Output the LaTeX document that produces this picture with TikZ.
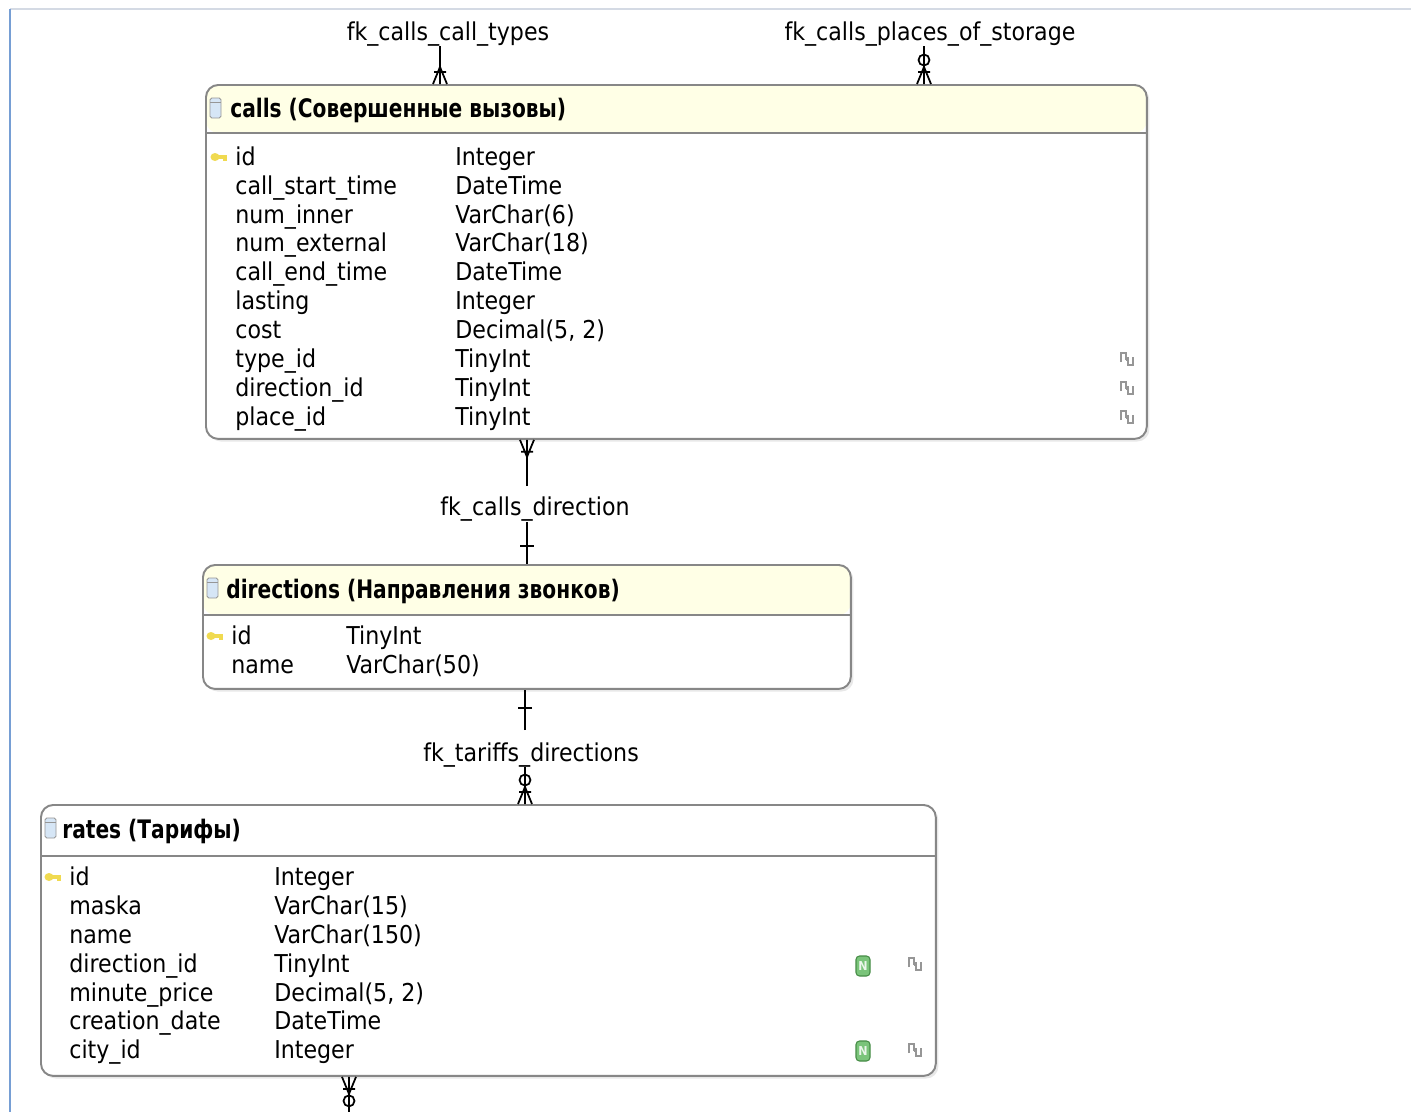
\documentclass[tikz,border=0pt]{standalone}
\usepackage{fontspec}
\setmainfont{DejaVu Sans Condensed}
\newfontfamily\ttlfont[FakeStretch=0.88]{DejaVu Sans Condensed}
\usetikzlibrary{positioning, calc, shadows}
\definecolor{hdryellow}{RGB}{255,255,230}
\definecolor{boxgray}{RGB}{135,135,135}
\definecolor{frameblue}{RGB}{118,158,212}
\definecolor{framegray}{RGB}{212,218,228}
\definecolor{keyyellow}{RGB}{240,218,80}
\definecolor{nullgreen}{RGB}{122,196,122}
\definecolor{nulldark}{RGB}{70,140,70}
\definecolor{iconblue}{RGB}{214,230,246}
\definecolor{icongray}{RGB}{150,150,150}

\tikzset{
    tbl/.style 2 args={draw=boxgray, line width=1.1pt, fill=white, rounded corners=7pt,
        rectangle, anchor=north west, inner sep=0pt,
        drop shadow={opacity=0.18, shadow xshift=1.5pt, shadow yshift=-1.5pt},
        path picture={
            \fill[#1] (path picture bounding box.north west) rectangle
                ([yshift=-#2]path picture bounding box.north east);
            \draw[boxgray, line width=1.1pt] ([yshift=-#2]path picture bounding box.north west) --
                ([yshift=-#2]path picture bounding box.north east);
        }},
    ttl/.style={anchor=base west, inner sep=0pt, font=\fontsize{14.5}{16}\ttlfont\bfseries},
    fld/.style={anchor=base west, inner sep=0pt, font=\fontsize{14}{16}\selectfont},
    fklbl/.style={inner sep=0pt, anchor=base, font=\fontsize{14}{16}\selectfont},
    rel/.style={line width=1pt, black},
    % crow's foot with a cross bar
    crow/.pic={\draw[rel] (-7,0) -- (0,-17) -- (7,0) (0,0) -- (0,-17) (-6,-12) -- (6,-12);},
    % crow's foot with a ring for the optional side
    crowzero/.pic={\draw[rel] (-7,0) -- (0,-17) -- (7,0) (0,0) -- (0,-17) (-6,-12) -- (6,-12);
        \draw[rel] (0,-24) circle[radius=0.11cm];},
    one/.pic={\draw[rel] (-7,-18) -- (7,-18);},
    tblicon/.pic={\draw[icongray, fill=iconblue, line width=0.5pt, rounded corners=1pt] (-6,-10) rectangle (5,10);
        \draw[icongray, line width=0.5pt] (-6,-6) -- (5,-6);},
    keyicon/.pic={\fill[keyyellow] (-4,0) ellipse[x radius=0.09cm, y radius=0.08cm];
        \draw[keyyellow, line width=1.8pt] (-2,0) -- (8,0) (6,0) -- (6,4);},
    linkicon/.pic={\draw[icongray, line width=0.6pt] (-6,3) -- (-6,-6) -- (-1,-6) -- (-1,1)
        (-1,1) -- (1,1) (1,-2) -- (1,6) -- (6,6) -- (6,-2);},
    nnicon/.pic={\draw[nulldark, fill=nullgreen, line width=0.6pt, rounded corners=2pt] (-7,-10) rectangle (7,10);
        \node[inner sep=0pt, text=white!85!nullgreen, font=\fontsize{7}{8}\selectfont\bfseries] at (0,0) {N};},
}

\begin{document}
\begin{tikzpicture}[x=0.02cm, y=-0.02cm]
    \useasboundingbox (0,0) rectangle (1411,1112);

    % window edges
    \draw[framegray, line width=0.6pt] (10,9) -- (1411,9);
    \draw[frameblue, line width=1.7pt] (10,9) -- (10,1112);

    % calls
    \node[tbl={hdryellow}{0.96cm}, minimum width=18.82cm, minimum height=7.08cm] (calls) at (205,84) {};
    \pic at (216,108) {tblicon};
    \node[ttl] (callsttl) at (230,117) {calls (Совершенные вызовы)};
    \pic at (219,157) {keyicon};
    \node[fld] (callsf1) at (235,165) {id};
    \node[fld] (callsf2) at (235,194) {call\_start\_time};
    \node[fld] (callsf3) at (235,223) {num\_inner};
    \node[fld] (callsf4) at (235,251) {num\_external};
    \node[fld] (callsf5) at (235,280) {call\_end\_time};
    \node[fld] (callsf6) at (235,309) {lasting};
    \node[fld] (callsf7) at (235,338) {cost};
    \node[fld] (callsf8) at (235,367) {type\_id};
    \node[fld] (callsf9) at (235,396) {direction\_id};
    \node[fld] (callsf10) at (235,425) {place\_id};
    \node[fld] (callst1) at (455,165) {Integer};
    \node[fld] (callst2) at (455,194) {DateTime};
    \node[fld] (callst3) at (455,223) {VarChar(6)};
    \node[fld] (callst4) at (455,251) {VarChar(18)};
    \node[fld] (callst5) at (455,280) {DateTime};
    \node[fld] (callst6) at (455,309) {Integer};
    \node[fld] (callst7) at (455,338) {Decimal(5, 2)};
    \node[fld] (callst8) at (455,367) {TinyInt};
    \node[fld] (callst9) at (455,396) {TinyInt};
    \node[fld] (callst10) at (455,425) {TinyInt};
    \pic at (1127,359) {linkicon};
    \pic at (1127,388) {linkicon};
    \pic at (1127,417) {linkicon};

    % directions
    \node[tbl={hdryellow}{1.0cm}, minimum width=12.96cm, minimum height=2.48cm] (dirs) at (202,564) {};
    \pic at (213,588) {tblicon};
    \node[ttl] (dirsttl) at (226,598) {directions (Направления звонков)};
    \pic at (215,636) {keyicon};
    \node[fld] (dirsf1) at (231,644) {id};
    \node[fld] (dirsf2) at (231,673) {name};
    \node[fld] (dirst1) at (346,644) {TinyInt};
    \node[fld] (dirst2) at (346,673) {VarChar(50)};

    % rates
    \node[tbl={white}{1.02cm}, minimum width=17.9cm, minimum height=5.42cm] (rates) at (40,804) {};
    \pic at (51,828) {tblicon};
    \node[ttl] (ratesttl) at (62,838) {rates (Тарифы)};
    \pic at (53,877) {keyicon};
    \node[fld] (ratesf1) at (69,885) {id};
    \node[fld] (ratesf2) at (69,914) {maska};
    \node[fld] (ratesf3) at (69,943) {name};
    \node[fld] (ratesf4) at (69,972) {direction\_id};
    \node[fld] (ratesf5) at (69,1001) {minute\_price};
    \node[fld] (ratesf6) at (69,1029) {creation\_date};
    \node[fld] (ratesf7) at (69,1058) {city\_id};
    \node[fld] (ratest1) at (274,885) {Integer};
    \node[fld] (ratest2) at (274,914) {VarChar(15)};
    \node[fld] (ratest3) at (274,943) {VarChar(150)};
    \node[fld] (ratest4) at (274,972) {TinyInt};
    \node[fld] (ratest5) at (274,1001) {Decimal(5, 2)};
    \node[fld] (ratest6) at (274,1029) {DateTime};
    \node[fld] (ratest7) at (274,1058) {Integer};
    \pic at (863,966) {nnicon};
    \pic at (863,1051) {nnicon};
    \pic at (915,964) {linkicon};
    \pic at (915,1050) {linkicon};

    % fk_calls_call_types
    \node[fklbl] (fkcct) at (448,40) {fk\_calls\_call\_types};
    \coordinate (cct) at (440,46);
    \draw[rel] (cct) -- (cct |- calls.north);
    \pic at (cct |- calls.north) {crow};

    % fk_calls_places_of_storage
    \node[fklbl] (fkcps) at (930,40) {fk\_calls\_places\_of\_storage};
    \coordinate (cps) at (924,46);
    \draw[rel] (cps) -- (cps |- calls.north);
    \pic at (cps |- calls.north) {crowzero};

    % fk_calls_direction
    \node[fklbl] (fkcd) at (535,515) {fk\_calls\_direction};
    \coordinate (cdtop) at (527,486);
    \coordinate (cdbot) at (527,522);
    \draw[rel] (cdtop) -- (cdtop |- calls.south);
    \pic[rotate=180] at (cdtop |- calls.south) {crow};
    \draw[rel] (cdbot) -- (cdbot |- dirs.north);
    \pic at (cdbot |- dirs.north) {one};

    % fk_tariffs_directions
    \node[fklbl] (fktd) at (531,761) {fk\_tariffs\_directions};
    \coordinate (tdtop) at (525,730);
    \coordinate (tdbot) at (525,767);
    \draw[rel] (tdtop) -- (tdtop |- dirs.south);
    \pic[rotate=180] at (tdtop |- dirs.south) {one};
    \draw[rel] (tdbot) -- (tdbot |- rates.north);
    \pic at (tdbot |- rates.north) {crowzero};

    % link leaving rates downwards
    \coordinate (ratesout) at (349,1112);
    \draw[rel] (ratesout) -- (ratesout |- rates.south);
    \pic[rotate=180] at (ratesout |- rates.south) {crowzero};
\end{tikzpicture}
\end{document}
